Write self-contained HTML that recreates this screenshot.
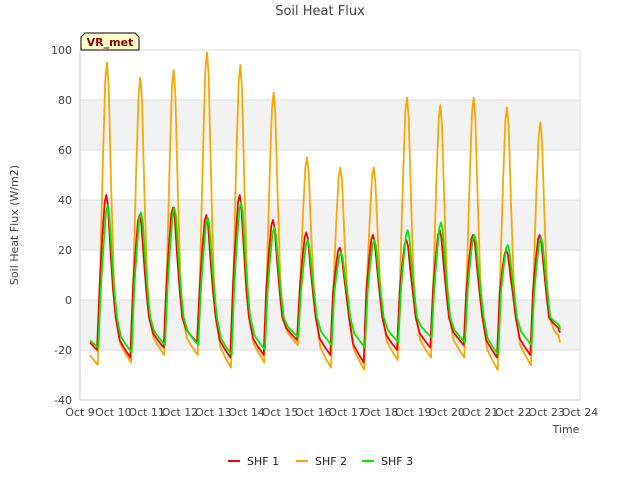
<!DOCTYPE html>
<html><head><meta charset="utf-8"><style>
body{margin:0;background:#fff;font-family:"Liberation Sans","DejaVu Sans",sans-serif}
text{font-family:"DejaVu Sans","Liberation Sans",sans-serif}
</style></head><body>
<svg id="chart" width="640" height="480">
<rect width="640" height="480" fill="#fff"/>
<g id="grid"></g>
<g id="axes"></g>
<g id="series"></g>
<text x="320" y="15" text-anchor="middle" font-size="13" fill="#444">Soil Heat Flux</text>
<text x="566" y="433" text-anchor="middle" font-size="11" fill="#444">Time</text>
<text transform="translate(18,225) rotate(-90)" text-anchor="middle" font-size="11" fill="#444">Soil Heat Flux (W/m2)</text>
<g>
<path d="M81,50 L81,37 L85,33 L135,33 L139,37 L139,50 Z" fill="#ffffcc" stroke="#000" stroke-width="1"/>
<text x="110" y="46" text-anchor="middle" font-size="11" font-weight="bold" fill="#8b0000">VR_met</text>
</g>
<g id="legend"></g>
</svg>
<script>
const yTicks=[-40,-20,0,20,40,60,80,100];
const xTickLabels=["Oct 9","Oct 10","Oct 11","Oct 12","Oct 13","Oct 14","Oct 15","Oct 16","Oct 17","Oct 18","Oct 19","Oct 20","Oct 21","Oct 22","Oct 23","Oct 24"];
const seriesNames=["SHF 1","SHF 2","SHF 3"];
const seriesColors=["#ff0000","#ffa500","#00ee00"];
const shf1Peaks=[42,34,37,34,42,32,27,21,26,24,28,26,20,26];
const shf2Peaks=[95,89,92,99,94,83,57,53,53,81,78,81,77,71];
const shf3Peaks=[38,35,37,33,39,29,24,19,24,28,31,26,22,25];
const shf1Mins=[-20,-23,-19,-17,-23,-22,-16,-22,-25,-20,-19,-18,-23,-22,-13];
const shf2Mins=[-26,-25,-22,-22,-27,-25,-18,-27,-28,-24,-23,-23,-28,-26,-17];
const shf3Mins=[-19,-21,-18,-18,-22,-20,-15,-18,-19,-17,-15,-17,-22,-18,-12];
const X0=80,X1=580,Y0=400,Y1=50;
const xs=d=>X0+(d)/15*(X1-X0);
const ys=v=>Y0-(v+40)/140*(Y0-Y1);
const NS="http://www.w3.org/2000/svg";
function mk(tag,attrs,parent){const e=document.createElementNS(NS,tag);for(const k in attrs)e.setAttribute(k,attrs[k]);parent.appendChild(e);return e;}
const grid=document.getElementById('grid'),axes=document.getElementById('axes'),ser=document.getElementById('series'),leg=document.getElementById('legend');
[[60,80],[20,40],[-20,0]].forEach(b=>{const r=mk('rect',{x:X0,y:ys(b[1]),width:X1-X0,height:ys(b[0])-ys(b[1]),fill:'#f2f2f2'},grid);

});
yTicks.forEach(v=>{const l=mk('line',{x1:X0,x2:X1,y1:ys(v),y2:ys(v),stroke:'#ddd'},grid);


const t=mk('text',{x:X0-8,y:ys(v)+4,'text-anchor':'end','font-size':11,fill:'#444'},axes);t.textContent=v;

});
mk('line',{x1:X0,x2:X0,y1:Y1,y2:Y0,stroke:'#ccc'},axes);
mk('line',{x1:X1,x2:X1,y1:Y1,y2:Y0,stroke:'#ddd'},axes);
mk('line',{x1:X0,x2:X1,y1:Y0,y2:Y0,stroke:'#ccc'},axes);
xTickLabels.forEach((s,i)=>{const t=mk('text',{x:xs(i),y:Y0+16,'text-anchor':'middle','font-size':11,fill:'#444'},axes);t.textContent=s;

});
function build(peaks,mins,lag){
  const k=[[0.3,mins[0]*0.85]];
  peaks.forEach((p,i)=>{const tp=i+0.81+lag;
    k.push([tp-0.28,mins[i]],[tp-0.2,p*0.15],[tp-0.12,p*0.6],[tp-0.05,p*0.93],[tp,p],[tp+0.05,p*0.9],[tp+0.12,p*0.5],[tp+0.2,p*0.1],[tp+0.28,-7],[tp+0.4,mins[i+1]*0.7],[tp+0.55,mins[i+1]*0.85]);});
  k.push([14.4,mins[14]]);
  return k.map(p=>xs(p[0]).toFixed(1)+','+ys(p[1]).toFixed(1)).join(' ');
}
const data=[[shf1Peaks,shf1Mins,-0.02],[shf2Peaks,shf2Mins,0],[shf3Peaks,shf3Mins,0.02]];
[1,0,2].forEach(i=>{const pl=mk('polyline',{points:build(...data[i]),fill:'none',stroke:seriesColors[i],'stroke-width':1.8,'stroke-linejoin':'round'},ser);

});
const lx=[228,296,362];
seriesNames.forEach((s,i)=>{const g=mk('g',{},leg);


mk('line',{x1:lx[i],x2:lx[i]+12,y1:461,y2:461,stroke:seriesColors[i],'stroke-width':2},g);
const t=mk('text',{x:lx[i]+19,y:465,'font-size':11,fill:'#222'},g);t.textContent=s;});
</script>
</body></html>
